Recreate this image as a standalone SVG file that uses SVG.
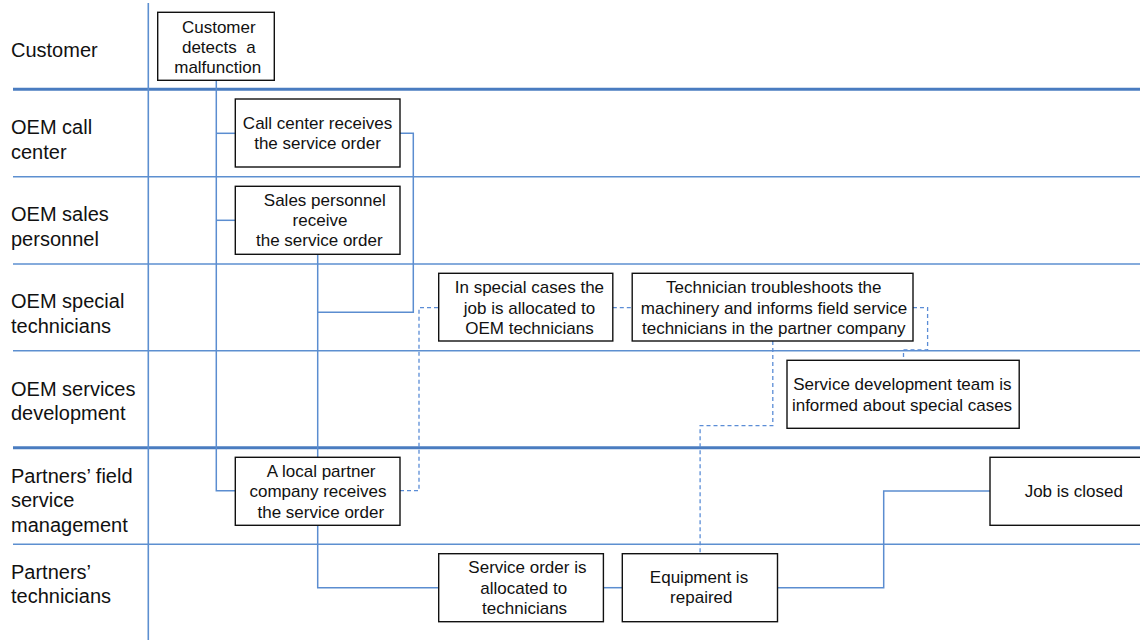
<svg xmlns="http://www.w3.org/2000/svg" width="1140" height="640" viewBox="0 0 1140 640">
<style>
.lane{font-family:"Liberation Sans",Arial,sans-serif;font-size:20px;fill:#111}
.nt{font-family:"Liberation Sans",Arial,sans-serif;font-size:17px;fill:#111;text-anchor:middle}
.box{fill:#fff;stroke:#111;stroke-width:1.4}
.sep{stroke:#5d8fd0;stroke-width:1.6;fill:none}
.sepk{stroke:#4a7cc0;stroke-width:3;fill:none}
.con{stroke:#5b8dd0;stroke-width:1.5;fill:none}
.dash{stroke:#5b8dd6;stroke-width:1.3;fill:none;stroke-dasharray:4 3}
</style>
<rect width="1140" height="640" fill="#fff"/>
<g id="lanes">
<line class="sepk" x1="13" y1="89.3" x2="1140" y2="89.3"/>
<line class="sep" x1="13" y1="176.7" x2="1140" y2="176.7"/>
<line class="sep" x1="13" y1="264" x2="1140" y2="264"/>
<line class="sep" x1="13" y1="350.7" x2="1140" y2="350.7"/>
<line class="sepk" x1="13" y1="447.7" x2="1140" y2="447.7"/>
<line class="sep" x1="13" y1="544.3" x2="1140" y2="544.3"/>
<line class="sep" x1="148.3" y1="3" x2="148.3" y2="640"/>
<text class="lane" x="11" y="57">Customer</text>
<text class="lane" x="11" y="134">OEM call</text>
<text class="lane" x="11" y="159.3">center</text>
<text class="lane" x="11" y="221">OEM sales</text>
<text class="lane" x="11" y="245.5">personnel</text>
<text class="lane" x="11" y="308.3">OEM special</text>
<text class="lane" x="11" y="332.7">technicians</text>
<text class="lane" x="11" y="396">OEM services</text>
<text class="lane" x="11" y="420">development</text>
<text class="lane" x="11" y="482.7">Partners’ field</text>
<text class="lane" x="11" y="507.3">service</text>
<text class="lane" x="11" y="531.7">management</text>
<text class="lane" x="11" y="579">Partners’</text>
<text class="lane" x="11" y="603.3">technicians</text>
</g>
<g id="connectors">
<polyline class="con" points="216.3,80.3 216.3,490.7 235.3,490.7"/>
<line class="con" x1="216.3" y1="133.3" x2="235.3" y2="133.3"/>
<line class="con" x1="216.3" y1="220.3" x2="235.3" y2="220.3"/>
<polyline class="con" points="400,133.3 413.3,133.3 413.3,312.3 317.7,312.3"/>
<line class="con" x1="317.7" y1="254.3" x2="317.7" y2="457.3"/>
<polyline class="con" points="317.7,525.3 317.7,587.7 438.7,587.7"/>
<line class="con" x1="603.4" y1="587.7" x2="622.3" y2="587.7"/>
<polyline class="con" points="777.5,587.7 883.7,587.7 883.7,491 990,491"/>
<polyline class="dash" points="400,490.7 419,490.7 419,307.7 438.7,307.7"/>
<line class="dash" x1="612.8" y1="307.7" x2="632.2" y2="307.7"/>
<polyline class="dash" points="913,307.7 927.6,307.7 927.6,350 903.5,350 903.5,360.3"/>
<polyline class="dash" points="772.8,341 772.8,425.7 700.1,425.7 700.1,553.7"/>
</g>
<g id="n1">
<rect class="box" x="157.7" y="12.3" width="116.6" height="68"/>
<text class="nt" x="218.8" y="32.5">Customer</text>
<text class="nt" x="218.8" y="52.7" xml:space="preserve">detects  a</text>
<text class="nt" x="217.7" y="72.9">malfunction</text>
</g>
<g id="n2">
<rect class="box" x="235.3" y="99" width="164.7" height="68"/>
<text class="nt" x="317.5" y="129.3">Call center receives</text>
<text class="nt" x="317.5" y="149.3">the service order</text>
</g>
<g id="n3">
<rect class="box" x="235.3" y="186.3" width="164.7" height="68"/>
<text class="nt" x="324.8" y="205.7">Sales personnel</text>
<text class="nt" x="320" y="226">receive</text>
<text class="nt" x="319.3" y="246">the service order</text>
</g>
<g id="n4">
<rect class="box" x="235.3" y="457.3" width="164.7" height="68"/>
<text class="nt" x="321.2" y="476.7">A local partner</text>
<text class="nt" x="318" y="497">company receives</text>
<text class="nt" x="320.8" y="517.7">the service order</text>
</g>
<g id="n5">
<rect class="box" x="438.7" y="273.3" width="174.1" height="67.7"/>
<text class="nt" x="529.4" y="293.3">In special cases the</text>
<text class="nt" x="529.5" y="313.5">job is allocated to</text>
<text class="nt" x="529.5" y="334">OEM technicians</text>
</g>
<g id="n6">
<rect class="box" x="632.2" y="273.3" width="280.8" height="67.7"/>
<text class="nt" x="773.8" y="293.3">Technician troubleshoots the</text>
<text class="nt" x="774" y="313.5">machinery and informs field service</text>
<text class="nt" x="773.8" y="334">technicians in the partner company</text>
</g>
<g id="n7">
<rect class="box" x="787" y="360.3" width="232.2" height="68"/>
<text class="nt" x="902.3" y="390">Service development team is</text>
<text class="nt" x="902" y="410.7">informed about special cases</text>
</g>
<g id="n8">
<rect class="box" x="990" y="457.3" width="170" height="68"/>
<text class="nt" x="1073.8" y="496.7">Job is closed</text>
</g>
<g id="n9">
<rect class="box" x="438.7" y="553.7" width="164.7" height="68"/>
<text class="nt" x="527.4" y="573.3">Service order is</text>
<text class="nt" x="523.7" y="594">allocated to</text>
<text class="nt" x="524.6" y="614">technicians</text>
</g>
<g id="n10">
<rect class="box" x="622.3" y="553.7" width="155.2" height="68"/>
<text class="nt" x="699" y="582.7">Equipment is</text>
<text class="nt" x="701.3" y="603.3">repaired</text>
</g>
</svg>
